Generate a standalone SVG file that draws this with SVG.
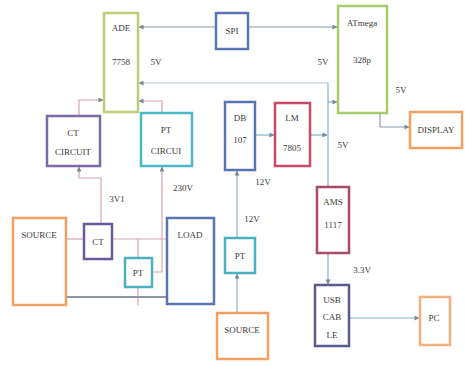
<svg xmlns="http://www.w3.org/2000/svg" width="465" height="366" viewBox="0 0 465 366">
<defs>
<marker id="ah" viewBox="0 0 6 6" refX="5.5" refY="3" markerWidth="5" markerHeight="5" orient="auto" markerUnits="userSpaceOnUse"><path d="M0,0 L6,3 L0,6 z" fill="#7a8a98"/></marker>
</defs>
<style>
text{font-family:"Liberation Serif","Times New Roman",serif;font-size:9px;fill:#3a3a3a;text-anchor:middle}
.b{fill:#fff;stroke-width:2.5}
.c{fill:none;stroke-width:1.2}
.pk{stroke:#d9a4ae}
.gy{stroke:#8a98a8}
.tl{stroke:#7fb4c8}
.lb{stroke:#b3c8d0}
.dk{stroke:#8c96a8;stroke-width:2}
</style>
<rect width="465" height="366" fill="#fff"/>
<g id="connectors">
<path class="c gy" d="M216,27 H139" marker-end="url(#ah)"/>
<path class="c gy" d="M248,27 H337" marker-end="url(#ah)"/>
<path class="c lb" d="M328,83 H139" marker-end="url(#ah)"/>
<path class="c tl" d="M328,83 V187"/>
<path class="c tl" d="M328,102 H337" marker-end="url(#ah)"/>
<path class="c tl" d="M310,135 H327" marker-end="url(#ah)"/>
<path class="c tl" d="M255,135 H274" marker-end="url(#ah)"/>
<path class="c gy" d="M380,113 V127 H409" marker-end="url(#ah)"/>
<path class="c pk" d="M79,116 V100 H103" marker-end="url(#ah)"/>
<path class="c pk" d="M162,113 V101 H139" marker-end="url(#ah)"/>
<path class="c pk" d="M101,224 V178 H79 V167" marker-end="url(#ah)"/>
<path class="c pk" d="M152,272 H162 V167" marker-end="url(#ah)"/>
<path class="c pk" d="M66,239 H84"/>
<path class="c pk" d="M112,239 H167"/>
<path class="c pk" d="M138,239 V258"/>
<path class="c pk" d="M138,287 V305"/>
<path class="c dk" d="M66,297 H167"/>
<path class="c tl" d="M237,238 V171" marker-end="url(#ah)"/>
<path class="c tl" d="M237,313 V274" marker-end="url(#ah)"/>
<path class="c tl" d="M328,253 V284" marker-end="url(#ah)"/>
<path class="c tl" d="M349,318 H419" marker-end="url(#ah)"/>
</g>
<g id="labels">
<text x="156" y="65">5V</text>
<text x="323" y="65">5V</text>
<text x="401" y="93">5V</text>
<text x="343" y="148">5V</text>
<text x="117" y="202">3V1</text>
<text x="183" y="191">230V</text>
<text x="263" y="185">12V</text>
<text x="252" y="222">12V</text>
<text x="362" y="273">3.3V</text>
</g>
<g id="ade"><rect class="b" x="104" y="13" width="34" height="99" stroke="#bccf78"/><text x="121" y="31">ADE</text><text x="121" y="65">7758</text></g>
<g id="spi"><rect class="b" x="216" y="13" width="32" height="36" stroke="#5a74b4"/><text x="232" y="34">SPI</text></g>
<g id="atmega"><rect class="b" x="338" y="6" width="49" height="107" stroke="#a8cc6c"/><text x="362" y="26">ATmega</text><text x="362" y="63">328p</text></g>
<g id="display"><rect class="b" x="410" y="112" width="52" height="36" stroke="#f0a060"/><text x="436" y="133">DISPLAY</text></g>
<g id="ct-circuit"><rect class="b" x="47" y="116" width="53" height="50" stroke="#7a6aa8"/><text x="73" y="136">CT</text><text x="73" y="155">CIRCUIT</text></g>
<g id="pt-circuit"><rect class="b" x="141" y="113" width="51" height="53" stroke="#4cb8c8"/><text x="166" y="133">PT</text><text x="166" y="154">CIRCUI</text></g>
<g id="db107"><rect class="b" x="225" y="102" width="30" height="68" stroke="#5a74b4"/><text x="240" y="121">DB</text><text x="240" y="143">107</text></g>
<g id="lm7805"><rect class="b" x="275" y="103" width="35" height="63" stroke="#c84a68"/><text x="292" y="121">LM</text><text x="292" y="151">7805</text></g>
<g id="source-left"><rect class="b" x="13" y="218" width="53" height="87" stroke="#f0a060"/><text x="39" y="238">SOURCE</text></g>
<g id="ct"><rect class="b" x="84" y="224" width="28" height="35" stroke="#6a5a9a"/><text x="98" y="245">CT</text></g>
<g id="pt-left"><rect class="b" x="125" y="258" width="27" height="29" stroke="#4cb0c0"/><text x="138" y="276">PT</text></g>
<g id="load"><rect class="b" x="167" y="218" width="47" height="86" stroke="#5a74b4"/><text x="190" y="238">LOAD</text></g>
<g id="pt-right"><rect class="b" x="225" y="238" width="30" height="35" stroke="#4cb0c0"/><text x="240" y="259">PT</text></g>
<g id="source-bottom"><rect class="b" x="217" y="313" width="51" height="46" stroke="#f0a060"/><text x="242" y="333">SOURCE</text></g>
<g id="ams1117"><rect class="b" x="317" y="187" width="32" height="66" stroke="#a84a6a"/><text x="333" y="205">AMS</text><text x="333" y="228">1117</text></g>
<g id="usb"><rect class="b" x="315" y="285" width="34" height="61" stroke="#5a5a90"/><text x="332" y="303">USB</text><text x="332" y="320">CAB</text><text x="332" y="338">LE</text></g>
<g id="pc"><rect class="b" x="420" y="297" width="30" height="48" stroke="#f0b080"/><text x="434" y="321">PC</text></g>
</svg>
